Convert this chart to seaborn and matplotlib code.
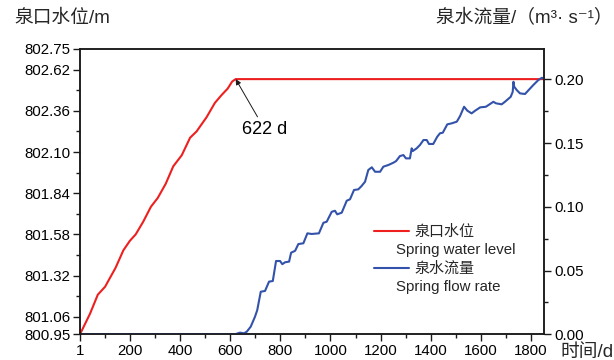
import matplotlib
matplotlib.use("Agg")
import matplotlib.pyplot as plt
import seaborn as sns
import pandas as pd
from matplotlib.lines import Line2D
from matplotlib.ticker import FixedLocator, FormatStrFormatter

# Spring water level (m) versus time (d)
level_days = [1, 41, 72, 101, 143, 174, 200, 223, 253, 284, 311, 343, 373, 407,
              440, 466, 506, 539, 566, 590, 608, 622, 1853]
level_m = [800.95, 801.08, 801.20, 801.25, 801.37, 801.48, 801.54, 801.58, 801.66,
           801.755, 801.81, 801.90, 802.01, 802.08, 802.19, 802.23, 802.32, 802.41,
           802.46, 802.50, 802.545, 802.56, 802.56]

# Spring flow rate (m3/s) versus time (d)
flow_days = [1, 619, 639, 655, 666, 682, 699, 708, 722, 739, 755, 770, 783, 799, 808,
             819, 835, 843, 859, 872, 892, 908, 925, 954, 972, 985, 1005, 1018, 1027,
             1045, 1065, 1078, 1094, 1111, 1124, 1138, 1151, 1165, 1178, 1198, 1211,
             1231, 1251, 1262, 1277, 1291, 1301, 1317, 1324, 1328, 1344, 1357, 1371,
             1384, 1393, 1410, 1426, 1437, 1448, 1466, 1484, 1504, 1517, 1533, 1546,
             1563, 1577, 1597, 1620, 1630, 1650, 1660, 1683, 1696, 1719, 1727, 1730,
             1733, 1743, 1756, 1776, 1809, 1829, 1843, 1852]
flow_rate = [0.0, 0.0, 0.0013, 0.0008, 0.002, 0.006, 0.0138, 0.019, 0.0334, 0.034,
             0.0413, 0.0418, 0.0575, 0.0575, 0.055, 0.0565, 0.057, 0.064, 0.0655,
             0.0708, 0.0714, 0.0792, 0.0787, 0.0792, 0.0875, 0.0883, 0.0961, 0.0969,
             0.0941, 0.0954, 0.1048, 0.1059, 0.1132, 0.1137, 0.1163, 0.1197, 0.1289,
             0.131, 0.1275, 0.1275, 0.1315, 0.1328, 0.1346, 0.1359, 0.1398, 0.1406,
             0.138, 0.138, 0.1459, 0.1437, 0.1459, 0.1485, 0.1524, 0.1524, 0.1493,
             0.1493, 0.155, 0.1577, 0.1581, 0.1647, 0.1655, 0.1668, 0.1712, 0.1785,
             0.1754, 0.1733, 0.1754, 0.178, 0.1785, 0.1798, 0.1824, 0.1812, 0.1804,
             0.1824, 0.1863, 0.1902, 0.1981, 0.1942, 0.1916, 0.189, 0.1885, 0.1955,
             0.1994, 0.2012, 0.2008]

x_ticks = [1, 200, 400, 600, 800, 1000, 1200, 1400, 1600, 1800]
x_minor = [100, 300, 500, 700, 900, 1100, 1300, 1500, 1700]
level_ticks = [800.95, 801.06, 801.32, 801.58, 801.84, 802.10, 802.36, 802.62, 802.75]
level_minor = [801.19, 801.45, 801.71, 801.97, 802.23, 802.49]
flow_ticks = [0.0, 0.05, 0.10, 0.15, 0.20]
flow_minor = [0.025, 0.075, 0.125, 0.175]

peak_day = 622
peak_level = 802.56

RED = "#ee1f1f"
BLUE = "#3352aa"
INK = "#1a1a1a"

sns.set_theme(style="ticks")
plt.rcParams["font.family"] = ["Liberation Sans", "Noto Sans CJK SC", "DejaVu Sans"]

level_df = pd.DataFrame({"day": level_days, "level": level_m})
flow_df = pd.DataFrame({"day": flow_days, "flow": flow_rate})

fig = plt.figure(figsize=(6.14, 3.6), dpi=100)
ax = fig.add_axes([80 / 614, 1 - 334.3 / 360, 464.3 / 614, 285.3 / 360])
ax2 = ax.twinx()

sns.lineplot(data=level_df, x="day", y="level", ax=ax, color=RED, lw=1.5,
             estimator=None, sort=False)
sns.lineplot(data=flow_df, x="day", y="flow", ax=ax2, color=BLUE, lw=1.5,
             estimator=None, sort=False)

ax.set_xlim(1, 1853)
ax.set_ylim(800.95, 802.75)
ax2.set_ylim(0, 0.2238)

ax.xaxis.set_major_locator(FixedLocator(x_ticks))
ax.xaxis.set_minor_locator(FixedLocator(x_minor))
ax.yaxis.set_major_locator(FixedLocator(level_ticks))
ax.yaxis.set_minor_locator(FixedLocator(level_minor))
ax.yaxis.set_major_formatter(FormatStrFormatter("%.2f"))
ax2.yaxis.set_major_locator(FixedLocator(flow_ticks))
ax2.yaxis.set_minor_locator(FixedLocator(flow_minor))
ax2.yaxis.set_major_formatter(FormatStrFormatter("%.2f"))

for a in (ax, ax2):
    a.set_xlabel("")
    a.set_ylabel("")
    for sp in a.spines.values():
        sp.set_visible(True)
        sp.set_color(INK)
        sp.set_linewidth(1.1)

ax.tick_params(axis="both", which="major", direction="out", length=5, width=1,
               color=INK, labelsize=10.8, labelcolor="black", pad=2,
               left=True, bottom=True, right=False, top=False)
ax.tick_params(axis="both", which="minor", direction="out", length=3, width=1,
               color=INK, left=True, bottom=True, right=False, top=False)
ax2.tick_params(axis="y", which="major", direction="out", length=5, width=1,
                color=INK, labelsize=10.8, labelcolor="black", pad=2,
                right=True, left=False)
ax2.tick_params(axis="y", which="minor", direction="out", length=3, width=1,
                color=INK, right=True, left=False)

ax.annotate("622 d", xy=(peak_day, peak_level), xytext=(739, 802.24),
            ha="center", va="center", fontsize=13, color="black",
            arrowprops=dict(arrowstyle="-|>", color=INK, lw=0.7,
                            mutation_scale=8, shrinkA=1, shrinkB=0))

handles = [Line2D([], [], color=RED, lw=1.5), Line2D([], [], color=BLUE, lw=1.5)]
ax2.legend(handles=handles, labels=["泉口水位", "泉水流量"], loc="upper left",
           bbox_to_anchor=(0.634, 0.382), frameon=False, fontsize=10.8,
           handlelength=2.3, handletextpad=0.35, labelspacing=1.5,
           borderpad=0, borderaxespad=0)
ax2.text(0.681, 0.295, "Spring water level", transform=ax2.transAxes,
         ha="left", va="center", fontsize=10.8)
ax2.text(0.681, 0.166, "Spring flow rate", transform=ax2.transAxes,
         ha="left", va="center", fontsize=10.8)

fig.text(14 / 614, 1 - 18 / 360, "泉口水位/m", ha="left", va="center", fontsize=13.5)
fig.text(613 / 614, 1 - 18 / 360, "泉水流量/（m³· s⁻¹）", ha="right", va="center",
         fontsize=13.5)
fig.text(614 / 614, 1 - 352 / 360, "时间/d", ha="right", va="center", fontsize=13.5)

fig.savefig("out.png", dpi=100)
